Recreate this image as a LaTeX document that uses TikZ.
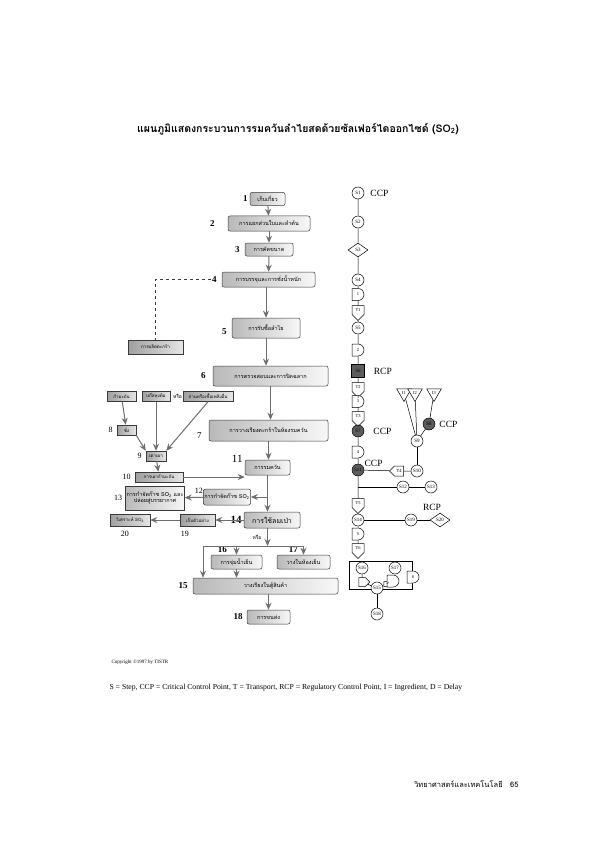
\documentclass[tikz,border=0pt]{standalone}
\usepackage{fontspec}
\setmainfont{Liberation Serif}
\newfontfamily\thai[Script=Thai]{Loma}
\usepackage{tikz}
\usetikzlibrary{positioning, arrows.meta, shapes.geometric, shapes.misc, shapes.symbols, calc}
\definecolor{inkgray}{HTML}{3A3A3A}
\definecolor{arrowgray}{HTML}{6E6E6E}
\definecolor{darkstep}{HTML}{5C5C5C}

\begin{document}
\begin{tikzpicture}[x=1pt, y=-1pt,
        font=\footnotesize,
        proc/.style={rectangle, rounded corners=2pt, draw=inkgray,
                line width=0.5pt, left color=gray!55, right color=gray!6,
                font=\thai\fontsize{5.5}{6.5}\selectfont, inner sep=1pt,
                align=center},
        src/.style={proc, rounded corners=0pt, left color=gray!75,
                right color=gray!20, font=\thai\fontsize{4.5}{5}\selectfont},
        num/.style={font=\bfseries\fontsize{9}{10}\selectfont, inner sep=1pt},
        numl/.style={font=\fontsize{8}{9}\selectfont, inner sep=1pt},
        arr/.style={-{Stealth[length=7pt, width=6pt]}, arrowgray,
                line width=1pt},
        line/.style={arrowgray, line width=1pt},
        stepc/.style={circle, draw=black, line width=0.5pt, fill=white,
                minimum size=12pt, inner sep=0pt,
                font=\fontsize{5}{5}\selectfont},
        stepdark/.style={stepc, fill=darkstep},
        stepdia/.style={diamond, draw=black, line width=0.5pt, fill=white,
                minimum width=20pt, minimum height=14pt, inner sep=0pt,
                font=\fontsize{5}{5}\selectfont},
        delay/.style={rounded rectangle, rounded rectangle left arc=none,
                draw=black, line width=0.5pt, fill=white,
                minimum width=11pt, minimum height=12pt, inner sep=0.5pt,
                font=\fontsize{4.5}{5}\selectfont},
        transp/.style={signal, signal to=south, draw=black,
                line width=0.5pt, fill=white, minimum width=12pt,
                minimum height=12pt, inner sep=0.5pt,
                font=\fontsize{4.5}{5}\selectfont},
        ingr/.style={regular polygon, regular polygon sides=3,
                shape border rotate=180, draw=black, line width=0.5pt,
                fill=white, minimum size=17pt, inner sep=0pt,
                font=\fontsize{4.5}{5}\selectfont},
        tag/.style={font=\fontsize{9.5}{10}\selectfont, inner sep=1pt},
        link/.style={black, line width=0.5pt},
    ]
    \path[fill=white] (0,0) rectangle (595,842);
    \useasboundingbox (0,0) rectangle (595,842);

    % title
    \node[font=\thai\bfseries\fontsize{10.5}{12}\selectfont] (title) at (298,129)
        {แผนภูมิแสดงกระบวนการรมควันลำไยสดด้วยซัลเฟอร์ไดออกไซด์ (SO\textsubscript{2})};

    % main process column
    \node[proc, minimum width=35pt, minimum height=13pt] (n1) at (267.5,199) {เก็บเกี่ยว};
    \node[proc, minimum width=82pt, minimum height=15pt] (n2) at (269,223.5) {การแยกส่วนใบและลำต้น};
    \node[proc, minimum width=48pt, minimum height=13pt] (n3) at (269,249.5) {การคัดขนาด};
    \node[proc, minimum width=93pt, minimum height=15pt] (n4) at (268.5,279.5) {การบรรจุและการชั่งน้ำหนัก};
    \node[proc, minimum width=68pt, minimum height=20pt] (n5) at (266,328) {การรับซื้อลำไย};
    \node[proc, minimum width=115pt, minimum height=20pt] (n6) at (270.5,376) {การตรวจสอบและการปิดฉลาก};
    \node[proc, minimum width=119pt, minimum height=21pt] (n7) at (268.5,430.5) {การวางเรียงตะกร้าในห้องรมควัน};
    \node[proc, minimum width=45pt, minimum height=15pt] (n11) at (267.5,467.5) {การรมควัน};
    \node[proc, minimum width=44pt, minimum height=16pt] (n12) at (227,497) {การกำจัดก๊าซ SO\textsubscript{2}};
    \node[proc, minimum width=56pt, minimum height=24pt, rounded corners=0pt] (n13) at (155,498)
        {การกำจัดก๊าซ SO\textsubscript{2} และ\\ปล่อยสู่บรรยากาศ};
    \node[proc, minimum width=56pt, minimum height=16pt,
          font=\thai\fontsize{7}{8}\selectfont] (n14) at (272,520) {การใช้ลมเป่า};
    \node[src, minimum width=35pt, minimum height=12pt] (n19) at (197.5,520) {เก็บตัวอย่าง};
    \node[src, minimum width=40pt, minimum height=12pt] (n20) at (130,520) {วิเคราะห์ SO\textsubscript{2}};
    \node[proc, minimum width=51pt, minimum height=14pt] (n16) at (236.5,562) {การจุ่มน้ำเย็น};
    \node[proc, minimum width=53pt, minimum height=14pt] (n17) at (303.5,562) {วางในห้องเย็น};
    \node[proc, minimum width=145pt, minimum height=16pt] (n15) at (265.5,586) {วางเรียงในตู้สินค้า};
    \node[proc, minimum width=43pt, minimum height=14pt] (n18) at (268.5,617) {การขนส่ง};

    % sulphur burning branch
    \node[src, minimum width=55pt, minimum height=14pt] (basket) at (155.5,347) {การผลิตตะกร้า};
    \node[src, minimum width=29pt, minimum height=10pt] (src1) at (121.5,396.5) {กำมะถัน};
    \node[src, minimum width=28pt, minimum height=10pt] (src2) at (156,396.5) {แก๊สหุงต้ม};
    \node[font=\thai\fontsize{5}{6}\selectfont, inner sep=0pt] (orword) at (177.5,396.5) {หรือ};
    \node[src, minimum width=50pt, minimum height=10pt] (src3) at (208,396.5) {ถ่านหรือเชื้อเพลิงอื่น};
    \node[src, minimum width=19pt, minimum height=10pt] (n8) at (126.5,430) {ชั่ง};
    \node[src, minimum width=20pt, minimum height=10pt] (n9) at (156,456) {เตาเผา};
    \node[src, minimum width=48pt, minimum height=10pt] (n10) at (159,477) {การเผากำมะถัน};

    % step numbers
    \node[num, left=1pt of n1] (l1) {1};
    \node[num, left=12pt of n2] (l2) {2};
    \node[num, left=4pt of n3] (l3) {3};
    \node[num, left=4pt of n4] (l4) {4};
    \node[num, left=4pt of n5, yshift=-4pt] (l5) {5};
    \node[num, left=6pt of n6] (l6) {6};
    \node[numl, left=6pt of n7, yshift=-5pt, font=\fontsize{9}{10}\selectfont] (l7) {7};
    \node[numl, left=3pt of n8] (l8) {8};
    \node[numl, left=3pt of n9] (l9) {9};
    \node[numl, left=3pt of n10] (l10) {10};
    \node[numl, font=\fontsize{11}{12}\selectfont, anchor=south east] (l11) at ([xshift=-1pt, yshift=-4pt]n11.north west) {11};
    \node[numl, anchor=south east] (l12) at ([xshift=1pt, yshift=-6pt]n12.north west) {12};
    \node[numl, left=2pt of n13] (l13) {13};
    \node[num, font=\bfseries\fontsize{11}{12}\selectfont, left=1pt of n14] (l14) {14};
    \node[numl, below=4pt of n19.south west, anchor=north west] (l19) {19};
    \node[numl, below=4pt of n20.south west, anchor=north west, xshift=10pt] (l20) {20};
    \node[font=\thai\fontsize{5}{6}\selectfont] (orword2) at (257,537) {หรือ};
    \node[num, anchor=south west] (l16) at ([xshift=6pt, yshift=1pt]n16.north west) {16};
    \node[num, anchor=south west] (l17) at ([xshift=11pt, yshift=1pt]n17.north west) {17};
    \node[num, left=4pt of n15] (l15) {15};
    \node[num, left=3pt of n18] (l18) {18};

    % main flow arrows
    \draw[arr] (n1) -- (n2);
    \draw[arr] (n2) -- (n3);
    \draw[arr] (n3) -- (n4);
    \draw[arr] (n4.south -| n5.north) -- (n5.north);
    \draw[arr] (n5.south) -- (n5.south |- n6.north);
    \draw[arr] (n6.south) -- (n6.south |- n7.north);
    \draw[arr] (n7.south) -- (n7.south |- n11.north);
    \draw[dashed, inkgray, line width=0.6pt] (l4.west) -| (basket.north);

    \draw[arr] (src1) -- (n8);
    \draw[arr] (n8.south east) -- (n9.north west);
    \draw[arr] (src2.south) -- (n9.north);
    \draw[arr] (src3.south) -- (n9.north east);
    \draw[arr] (n9) -- (n10);
    \draw[arr] (n10.east) -- (n10.east -| n11.west);

    \coordinate (c12) at (n11.south |- n12.east);
    \draw[arr] (n11.south) -- (n11.south |- n14.north);
    \draw[arr] (c12) -- (n12.east);
    \draw[arr] (n12) -- (n13);
    \draw[arr] (n14) -- (n19);
    \draw[arr] (n19) -- (n20);

    \coordinate (barM) at (267.5,546);
    \coordinate (barL) at (203,546);
    \coordinate (barR) at (303.5,546);
    \draw[arr] (barM |- n14.south) -- (barM);
    \draw[line] (barL) -- (barR);
    \draw[arr] (barL) -- (barL |- n15.north);
    \draw[arr] (n16.north |- barL) -- (n16.north);
    \draw[arr] (barR) -- (n17.north);
    \draw[arr] (n16.south) -- (n16.south |- n15.north);
    \draw[arr] (n15.south -| n18.north) -- (n18.north);

    % HACCP symbol column
    \node[stepc] (s1) at (358,193) {S1};
    \node[stepc] (s2) at (358,222) {S2};
    \node[stepdia] (s3) at (358,250) {S3};
    \node[stepc] (s4) at (358,280) {S4};
    \node[delay] (d1) at (358,294.5) {1};
    \node[transp] (t1) at (358,310) {T1};
    \node[stepc] (s5) at (358,328) {S5};
    \node[delay] (d2) at (358,350) {2};
    \node[rectangle, draw=black, fill=darkstep, minimum size=13pt,
          inner sep=0pt, font=\fontsize{5}{5}\selectfont] (s6) at (358,371) {S6};
    \node[transp] (t2) at (358,387) {T2};
    \node[delay] (d3) at (358,401.5) {3};
    \node[transp] (t3) at (358,416) {T3};
    \node[stepdark] (s7) at (358,431) {S7};
    \node[delay] (d4) at (358,452) {4};
    \node[stepdark] (s11) at (358,470) {S11};
    \node[transp, signal to=west, minimum width=14pt, minimum height=10pt] (t4) at (399,471) {T4};
    \node[stepc] (s10) at (417,471) {S10};
    \node[stepc] (s9) at (417,441) {S9};
    \node[stepdark] (s8) at (429,424) {S8};
    \node[ingr] (i1) at (404,393) {I1};
    \node[ingr] (i2) at (415,393) {I2};
    \node[ingr] (i3) at (434,393) {I3};
    \node[stepc] (s12) at (403,487) {S12};
    \node[stepc] (s13) at (431,487) {S13};
    \node[transp] (t5) at (358,503) {T5};
    \node[stepc] (s14) at (358,520) {S14};
    \node[stepc] (s19) at (411,520) {S19};
    \node[stepdia] (s20) at (440,520) {S20};
    \node[delay] (d5) at (358,534) {5};
    \node[transp] (t6) at (358,548) {T6};

    \node[draw=black, line width=0.5pt, minimum width=63pt,
          minimum height=28pt, inner sep=0pt] (grp) at (380.5,575) {};
    \node[stepc] (s16) at (362,568) {S16};
    \node[stepc] (s17) at (395,568) {S17};
    \node[transp, signal to=east, minimum width=11pt, minimum height=9pt] (t7) at (362,582) {};
    \node[stepc] (s15) at (377,588) {S15};
    \node[transp, signal to=east, minimum width=6pt, minimum height=5pt, inner sep=0pt] (t8) at (385.5,584) {};
    \node[delay] (d6) at (393,581) {};
    \node[delay, minimum width=7pt] (d7) at (413,577) {6};
    \node[stepc] (s18) at (377,614) {S18};

    \node[tag, anchor=west] (ccp1) at ([xshift=5pt]s1.east) {CCP};
    \node[tag, anchor=west] (rcp1) at ([xshift=8pt]s6.east) {RCP};
    \node[tag, anchor=west] (ccp2) at ([xshift=8pt]s7.east) {CCP};
    \node[tag, anchor=west] (ccp3) at ([xshift=3pt]s8.east) {CCP};
    \node[tag, anchor=south west] (ccp4) at ([xshift=1pt, yshift=-2pt]s11.north east) {CCP};
    \node[tag, anchor=south] (rcp2) at ([xshift=-8pt, yshift=1pt]s20.north) {RCP};

    \draw[link] (s1) -- (s2) -- (s3) -- (s4) -- (d1) -- (t1) -- (s5) -- (d2)
        -- (s6) -- (t2) -- (d3) -- (t3) -- (s7) -- (d4) -- (s11);
    \draw[link] (i1) -- (s9);
    \draw[link] (i2) -- (s9);
    \draw[link] (i3) -- (s8);
    \draw[link] (s8) -- (s9);
    \draw[link] (s9) -- (s10);
    \draw[link] (s10) -- (t4) -- (s11);
    \coordinate (c1112) at (s11.south |- s12.west);
    \draw[link] (s11) -- (t5) -- (s14);
    \draw[link] (c1112) -- (s12) -- (s13);
    \draw[link] (s14) -- (s19) -- (s20);
    \draw[link] (s14) -- (d5) -- (t6);
    \draw[link] (s16) -- (t7) -- (s15);
    \draw[link] (s15) -- (t8) -- (d6);
    \draw[link] (s15) -- (s18);

    % footnotes
    \node[font=\fontsize{5}{6}\selectfont, anchor=west] (copy) at (108,662) {Copyright \textcopyright1997 by TISTR};
    \node[font=\fontsize{7.7}{9}\selectfont, anchor=west] (legend) at (106,688)
        {S = Step, CCP = Critical Control Point, T = Transport, RCP = Regulatory Control Point, I = Ingredient, D = Delay};
    \node[font=\thai\fontsize{7.5}{9}\selectfont, anchor=east] (page) at (522,784)
        {วิทยาศาสตร์และเทคโนโลยี\quad 65};
\end{tikzpicture}
\end{document}
